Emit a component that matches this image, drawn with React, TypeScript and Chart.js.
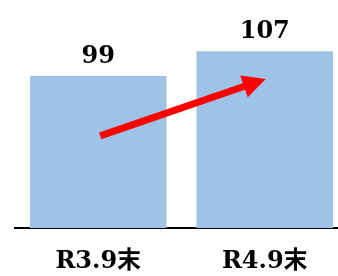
import React, { useEffect, useRef } from "react";
import { Chart, registerables } from "chart.js";

Chart.register(...registerables);

const categories = ["R3.9末", "R4.9末"];
const values = [99, 107];
const yMin = 50;
const yMax = 120;
// arrow annotation in data units: [category index, value]
const arrowFrom = [0, 79.7];
const arrowTo = [1, 98.1];

const FONT_FAMILY = '"DejaVu Serif", "Noto Sans CJK JP", serif';

const valueLabelPlugin = {
  id: "valueLabels",
  afterDatasetsDraw(chart: any) {
    const ctx = chart.ctx;
    const meta = chart.getDatasetMeta(0);
    ctx.save();
    ctx.font = `bold 24px ${FONT_FAMILY}`;
    ctx.fillStyle = "#000";
    ctx.textAlign = "center";
    ctx.textBaseline = "alphabetic";
    meta.data.forEach((bar: any, i: number) => {
      ctx.fillText(String(values[i]), bar.x, bar.y - 13);
    });
    ctx.restore();
  },
};

const arrowPlugin = {
  id: "arrow",
  afterDatasetsDraw(chart: any) {
    const ctx = chart.ctx;
    const xs = chart.scales.x;
    const ys = chart.scales.y;
    const x1 = xs.getPixelForValue(arrowFrom[0]) + 2;
    const y1 = ys.getPixelForValue(arrowFrom[1]);
    const x2 = xs.getPixelForValue(arrowTo[0]) + 1;
    const y2 = ys.getPixelForValue(arrowTo[1]);
    const dx = x2 - x1;
    const dy = y2 - y1;
    const len = Math.sqrt(dx * dx + dy * dy);
    const ux = dx / len;
    const uy = dy / len;
    const headLen = 23;
    const headHalf = 11.5;
    const bx = x2 - ux * headLen;
    const by = y2 - uy * headLen;
    ctx.save();
    ctx.strokeStyle = "#ff0000";
    ctx.fillStyle = "#ff0000";
    ctx.lineWidth = 7;
    ctx.lineCap = "butt";
    ctx.beginPath();
    ctx.moveTo(x1, y1);
    ctx.lineTo(bx + ux * 2, by + uy * 2);
    ctx.stroke();
    ctx.beginPath();
    ctx.moveTo(x2, y2);
    ctx.lineTo(bx - uy * headHalf, by + ux * headHalf);
    ctx.lineTo(bx + uy * headHalf, by - ux * headHalf);
    ctx.closePath();
    ctx.fill();
    ctx.restore();
  },
};

export default function App() {
  const canvasRef = useRef<HTMLCanvasElement | null>(null);

  useEffect(() => {
    if (!canvasRef.current) return;
    const chart = new Chart(canvasRef.current, {
      type: "bar",
      data: {
        labels: categories,
        datasets: [
          {
            data: values,
            backgroundColor: "#9DC3E6",
            borderWidth: 0,
            barPercentage: 0.82,
            categoryPercentage: 1,
          },
        ],
      },
      options: {
        animation: false,
        responsive: false,
        devicePixelRatio: 1,
        layout: { padding: { left: 15, top: 11, right: 0, bottom: 0 } },
        plugins: {
          legend: { display: false },
          tooltip: { enabled: false },
          title: { display: false },
        },
        scales: {
          y: {
            display: false,
            min: yMin,
            max: yMax,
          },
          x: {
            grid: { display: false, drawTicks: false },
            border: { display: true, color: "#000", width: 2 },
            ticks: {
              color: "#000",
              padding: 19,
              font: { family: FONT_FAMILY, size: 24, weight: "bold" },
            },
            afterFit: (axis: any) => {
              axis.height = 48;
            },
          },
        },
      },
      plugins: [valueLabelPlugin, arrowPlugin],
    } as any);
    return () => chart.destroy();
  }, []);

  return (
    <div
      style={{
        position: "fixed",
        left: 0,
        top: 0,
        width: 338,
        height: 276,
        overflow: "hidden",
        background: "#fff",
      }}
    >
      <canvas
        ref={canvasRef}
        width={348}
        height={276}
        style={{ display: "block", width: 348, height: 276 }}
      />
    </div>
  );
}
